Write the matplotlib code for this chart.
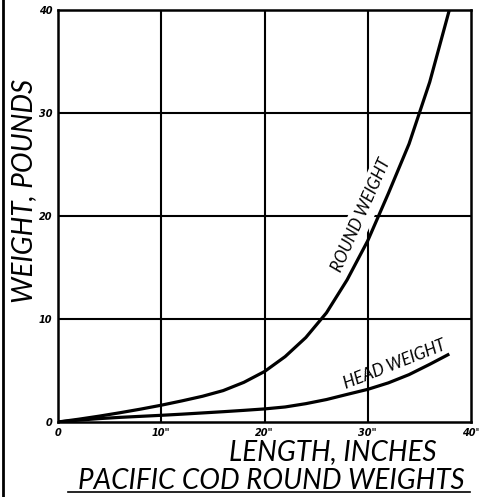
import matplotlib
matplotlib.use("Agg")
import matplotlib.pyplot as plt
from matplotlib.lines import Line2D

# ---- data ----
length_in = [0, 2, 4, 6, 8, 10, 12, 14, 16, 18, 20, 22, 24, 26, 28, 30, 32, 34, 36, 37.9]
round_weight = [0, 0.27, 0.57, 0.9, 1.25, 1.63, 2.05, 2.5, 3.05, 3.85, 4.9, 6.35, 8.2, 10.6,
                13.8, 17.6, 22.2, 27.0, 33.0, 40.0]
head_weight = [0, 0.18, 0.33, 0.45, 0.55, 0.65, 0.76, 0.88, 1.0, 1.13, 1.27, 1.46, 1.78, 2.18,
               2.68, 3.17, 3.8, 4.6, 5.6, 6.6]
x_ticks = [0, 10, 20, 30, 40]
x_tick_labels = ['0', '10"', '20"', '30"', '40"']
y_ticks = [0, 10, 20, 30, 40]
y_tick_labels = ['0', '10', '20', '30', '40']

W, H = 479, 497
fig = plt.figure(figsize=(W / 100, H / 100), dpi=100)
fig.patch.set_facecolor('white')

ax = fig.add_axes([58 / W, (H - 422) / H, (471 - 58) / W, (422 - 10) / H])
ax.set_xlim(0, 40)
ax.set_ylim(0, 40)

for v in [10, 20, 30]:
    ax.axvline(v, color='black', lw=1.5, zorder=1)
    ax.axhline(v, color='black', lw=1.5, zorder=1)
for s in ax.spines.values():
    s.set_linewidth(1.8)
    s.set_zorder(5)

ax.plot(length_in, round_weight, color='black', lw=2.3, zorder=4, solid_capstyle='butt',
        solid_joinstyle='round')
ax.plot(length_in, head_weight, color='black', lw=2.3, zorder=4, solid_capstyle='butt',
        solid_joinstyle='round')

tickfont = dict(fontsize=7, fontweight='bold', fontstyle='italic', family='DejaVu Sans')
ax.set_xticks(x_ticks)
ax.set_xticklabels(x_tick_labels, **tickfont)
ax.set_yticks(y_ticks)
ax.set_yticklabels(y_tick_labels, **tickfont)
ax.tick_params(length=0, pad=4)

lblfont = dict(family=['Lato', 'DejaVu Sans'], fontstyle='italic', fontweight='normal')
ax.text(29.4, 20.1, 'ROUND WEIGHT', rotation=66, ha='center', va='center',
        fontsize=12, zorder=2, rotation_mode='anchor',
        bbox=dict(facecolor='white', edgecolor='none', pad=3), **lblfont)
ax.text(32.6, 5.6, 'HEAD WEIGHT', rotation=21.5, ha='center', va='center',
        fontsize=12, zorder=2, rotation_mode='anchor', **lblfont)

bigfont = dict(family=['Lato', 'DejaVu Sans'], fontstyle='italic', fontweight='normal')
fig.text(24 / W, 1 - 191 / H, 'WEIGHT, POUNDS', rotation=90, ha='center', va='center',
         fontsize=20, **bigfont)
fig.text(333 / W, 1 - 452 / H, 'LENGTH, INCHES', ha='center', va='center',
         fontsize=20, **bigfont)
fig.text(271 / W, 1 - 481 / H, 'PACIFIC COD ROUND WEIGHTS', ha='center', va='center',
         fontsize=20, **bigfont)
fig.add_artist(Line2D([68 / W, 470 / W], [1 - 492 / H, 1 - 492 / H], color='black', lw=1.2))
fig.add_artist(Line2D([3 / W, 3 / W], [0, 1], color='black', lw=2))

fig.savefig('out.png', dpi=100)
